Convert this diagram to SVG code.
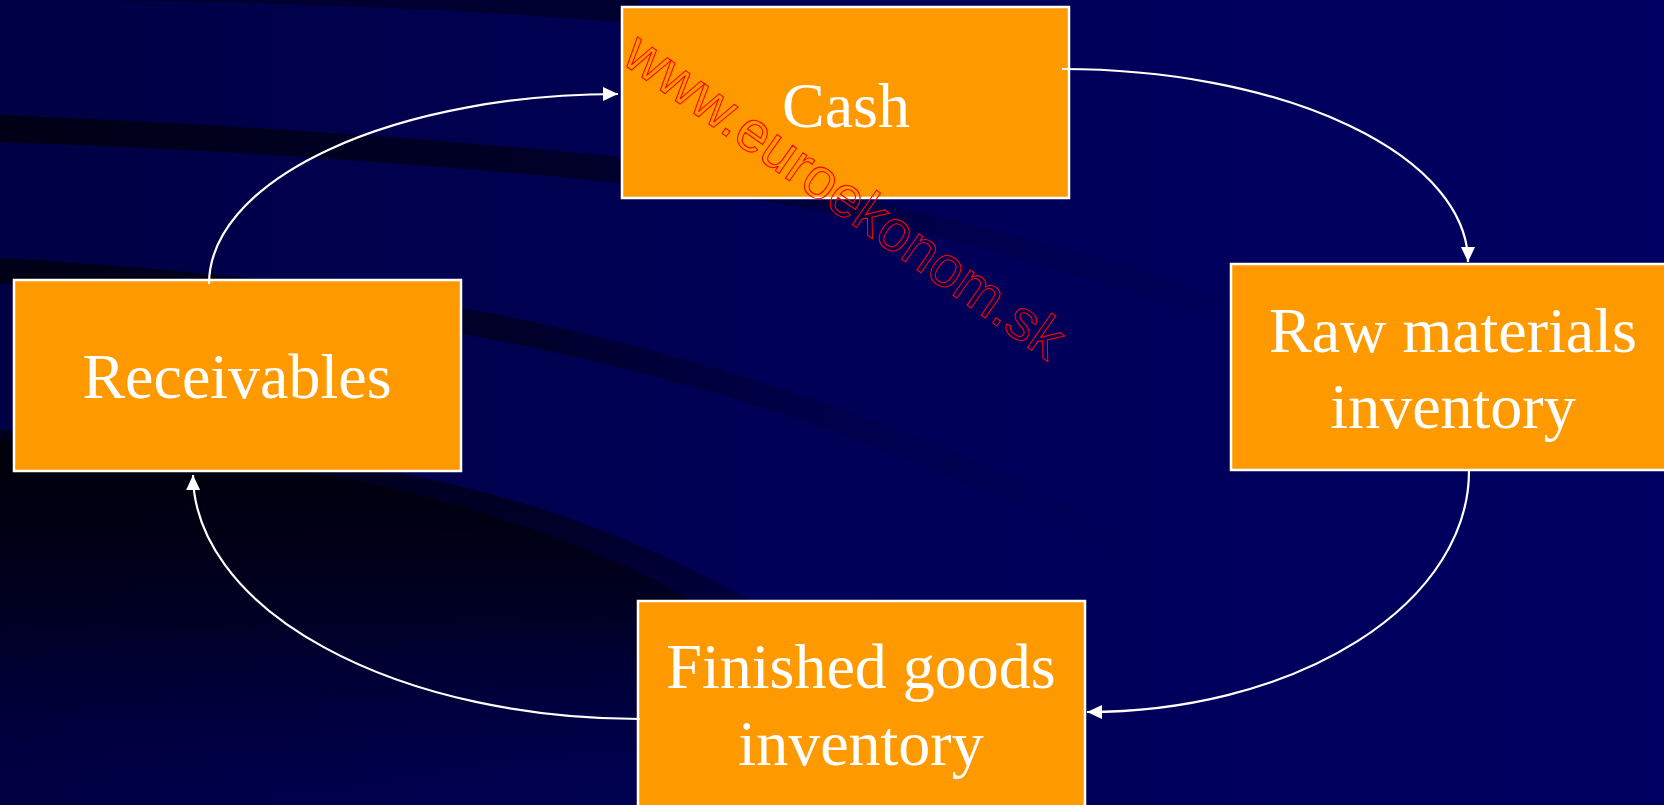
<svg xmlns="http://www.w3.org/2000/svg" width="1664" height="805" viewBox="0 0 1664 805">
  <style>
    .box { fill: #ff9900; stroke: #ffffff; stroke-width: 2.5; }
    .label { fill: #ffffff; font-family: "Liberation Serif", "Times New Roman", serif; font-size: 64px; text-anchor: middle; }
    .flow { fill: none; stroke: #ffffff; stroke-width: 2.2; marker-end: url(#arrow); }
    .mark { fill: none; stroke: #ff0000; stroke-width: 1.1; font-family: "Liberation Sans", Arial, sans-serif; font-size: 58px; }
  </style>
  <defs>
    <linearGradient id="bgBase" x1="0" y1="0" x2="1" y2="0">
      <stop offset="0" stop-color="#000044"/>
      <stop offset="0.45" stop-color="#000056"/>
      <stop offset="1" stop-color="#000062"/>
    </linearGradient>
    <linearGradient id="bandUpper" x1="0" y1="0" x2="1" y2="0">
      <stop offset="0" stop-color="#000016" stop-opacity="1"/>
      <stop offset="0.45" stop-color="#000020" stop-opacity="0.8"/>
      <stop offset="0.75" stop-color="#000030" stop-opacity="0.25"/>
      <stop offset="1" stop-color="#000030" stop-opacity="0"/>
    </linearGradient>
    <linearGradient id="bandLower" x1="0" y1="0" x2="1" y2="0">
      <stop offset="0" stop-color="#000016" stop-opacity="1"/>
      <stop offset="0.35" stop-color="#000020" stop-opacity="0.8"/>
      <stop offset="0.6" stop-color="#000030" stop-opacity="0.2"/>
      <stop offset="0.8" stop-color="#000030" stop-opacity="0"/>
    </linearGradient>
    <linearGradient id="lowerDark" x1="0" y1="0" x2="0" y2="1">
      <stop offset="0" stop-color="#000008" stop-opacity="0.95"/>
      <stop offset="0.45" stop-color="#000018" stop-opacity="0.7"/>
      <stop offset="1" stop-color="#000040" stop-opacity="0"/>
    </linearGradient>
    <marker id="arrow" markerUnits="userSpaceOnUse" viewBox="0 0 15 14" markerWidth="15" markerHeight="14" refX="15" refY="7" orient="auto">
      <path d="M0,0 L15,7 L0,14 Z" fill="#ffffff"/>
    </marker>
  </defs>

  <!-- backdrop with dark swooshes -->
  <g id="backdrop">
    <rect width="1664" height="805" fill="url(#bgBase)"/>
    <path d="M90,0 C300,3 480,10 640,24 L640,0 Z" fill="#000030"/>
    <path d="M0,115 C250,125 450,140 620,157 C800,178 980,225 1120,265 C1200,290 1260,310 1320,330 L1320,350 C1260,330 1200,312 1140,295 C1000,250 820,200 620,183 C440,165 230,150 0,142 Z" fill="url(#bandUpper)"/>
    <path d="M0,258 C180,268 330,285 457,307 C640,340 820,395 974,460 C1150,535 1330,650 1480,805 L1440,805 C1300,670 1130,560 974,487 C820,420 640,365 457,333 C330,312 180,295 0,283 Z" fill="url(#bandLower)"/>
    <path d="M0,300 L0,805 L1000,805 C940,730 860,660 744,597 C650,545 540,500 400,473 C280,450 150,440 0,430 Z" fill="url(#lowerDark)"/>
    <path d="M0,440 C160,450 290,465 400,490 C520,520 620,560 687,597 C760,650 820,720 860,805 L0,805 Z" fill="url(#lowerDark)"/>
  </g>

  <g id="node-cash">
    <rect class="box" x="622" y="7" width="447" height="191"/>
    <text class="label" x="846" y="127">Cash</text>
  </g>

  <g id="node-raw-materials">
    <rect class="box" x="1231" y="264" width="447" height="206"/>
    <text class="label" x="1453" y="352">Raw materials</text>
    <text class="label" x="1453" y="428">inventory</text>
  </g>

  <g id="node-finished-goods">
    <rect class="box" x="638" y="601" width="447" height="215"/>
    <text class="label" x="861" y="688">Finished goods</text>
    <text class="label" x="861" y="765">inventory</text>
  </g>

  <g id="node-receivables">
    <rect class="box" x="14" y="280" width="447" height="191"/>
    <text class="label" x="237" y="398">Receivables</text>
  </g>

  <g id="connectors">
    <path class="flow" d="M209,284 A409,190 0 0 1 618,94"/>
    <path class="flow" d="M1062,69 A406,193 0 0 1 1468,262"/>
    <path class="flow" d="M1469,471 A382,241 0 0 1 1087,712"/>
    <path class="flow" d="M640,719 A447,245 0 0 1 193,475"/>
  </g>

  <text class="mark" x="0" y="0" textLength="522" lengthAdjust="spacingAndGlyphs" transform="translate(620,62) rotate(35)">www.euroekonom.sk</text>
</svg>
